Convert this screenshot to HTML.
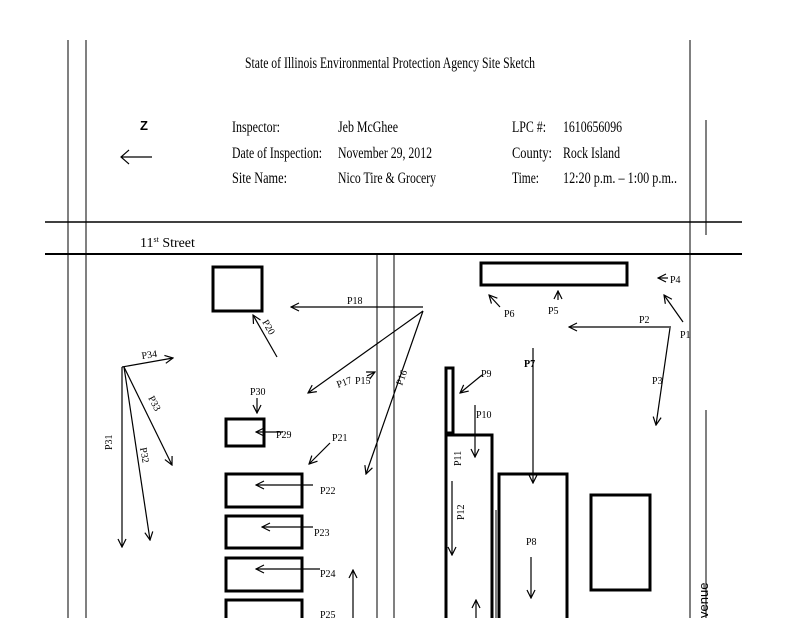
<!DOCTYPE html>
<html><head><style>
body{margin:0;background:#fff;width:800px;height:618px;overflow:hidden}
svg{display:block}
text{font-family:"Liberation Serif",serif;fill:#000}
</style></head><body>
<svg width="800" height="618" viewBox="0 0 800 618" xmlns="http://www.w3.org/2000/svg">
<defs>
<marker id="a" markerWidth="10" markerHeight="10" refX="9" refY="5" orient="auto" markerUnits="userSpaceOnUse">
<path d="M1,1 L9,5 L1,9" fill="none" stroke="#000" stroke-width="1.2"/>
</marker>
</defs>
<g stroke="#000" fill="none">
<line x1="68" y1="40" x2="68" y2="618" stroke-width="1"/>
<line x1="86" y1="40" x2="86" y2="618" stroke-width="1"/>
<line x1="690" y1="40" x2="690" y2="618" stroke-width="1"/>
<line x1="706" y1="120" x2="706" y2="235" stroke-width="1"/>
<line x1="706" y1="410" x2="706" y2="618" stroke-width="1"/>
<line x1="45" y1="222" x2="742" y2="222" stroke-width="1.5"/>
<line x1="45" y1="254" x2="742" y2="254" stroke-width="2"/>
<line x1="377" y1="254" x2="377" y2="618" stroke-width="1"/>
<line x1="394" y1="254" x2="394" y2="618" stroke-width="1"/>
<line x1="121" y1="157" x2="152" y2="157" stroke-width="1.2"/>
<path d="M129,150 L121,157 L129,164" stroke-width="1.2"/>
<!-- boxes -->
<rect x="213" y="267" width="49" height="44" stroke-width="3"/>
<rect x="226" y="419" width="38" height="27" stroke-width="3"/>
<rect x="226" y="474" width="76" height="33" stroke-width="3"/>
<rect x="226" y="516" width="76" height="32" stroke-width="3"/>
<rect x="226" y="558" width="76" height="33" stroke-width="3"/>
<rect x="226" y="600" width="76" height="30" stroke-width="3"/>
<rect x="481" y="263" width="146" height="22" stroke-width="3"/>
<rect x="446" y="368" width="7" height="65" stroke-width="3"/>
<rect x="446" y="435" width="46" height="200" stroke-width="3"/>
<rect x="499" y="474" width="68" height="160" stroke-width="3"/>
<rect x="591" y="495" width="59" height="95" stroke-width="3"/>
<line x1="496" y1="510" x2="496" y2="618"/>
<!-- arrows -->
<g stroke-width="1.2" marker-end="url(#a)">
<line x1="423" y1="307" x2="291" y2="307"/>
<line x1="423" y1="311" x2="308" y2="393"/>
<line x1="423" y1="311" x2="366" y2="474"/>
<line x1="367" y1="376" x2="375" y2="372"/>
<line x1="277" y1="357" x2="253" y2="315"/>
<line x1="122" y1="367" x2="173" y2="358"/>
<line x1="124" y1="367" x2="172" y2="465"/>
<line x1="122" y1="367" x2="122" y2="547"/>
<line x1="124" y1="367" x2="150" y2="540"/>
<line x1="257" y1="398" x2="257" y2="413"/>
<line x1="283" y1="432" x2="256" y2="432"/>
<line x1="330" y1="443" x2="309" y2="464"/>
<line x1="313" y1="485" x2="256" y2="485"/>
<line x1="313" y1="527" x2="262" y2="527"/>
<line x1="320" y1="569" x2="256" y2="569"/>
<line x1="353" y1="618" x2="353" y2="570"/>
<line x1="668" y1="278" x2="658" y2="278"/>
<line x1="500" y1="307" x2="489" y2="295"/>
<line x1="558" y1="300" x2="558" y2="291"/>
<line x1="671" y1="327" x2="569" y2="327"/>
<line x1="683" y1="322" x2="664" y2="295"/>
<line x1="670" y1="328" x2="656" y2="425"/>
<line x1="533" y1="348" x2="533" y2="483"/>
<line x1="482" y1="375" x2="460" y2="393"/>
<line x1="475" y1="405" x2="475" y2="457"/>
<line x1="452" y1="481" x2="452" y2="555"/>
<line x1="531" y1="557" x2="531" y2="598"/>
<line x1="476" y1="618" x2="476" y2="600"/>
</g>
</g>
<text x="390" y="68" font-size="16" text-anchor="middle" textLength="290" lengthAdjust="spacingAndGlyphs">State of Illinois Environmental Protection Agency Site Sketch</text>
<text x="140" y="130" font-size="13" font-weight="bold" style="font-family:'Liberation Sans',sans-serif">Z</text>
<g font-size="16">
<text x="232" y="132" textLength="48" lengthAdjust="spacingAndGlyphs">Inspector:</text>
<text x="232" y="158" textLength="90" lengthAdjust="spacingAndGlyphs">Date of Inspection:</text>
<text x="232" y="183" textLength="55" lengthAdjust="spacingAndGlyphs">Site Name:</text>
<text x="338" y="132" textLength="60" lengthAdjust="spacingAndGlyphs">Jeb McGhee</text>
<text x="338" y="158" textLength="94" lengthAdjust="spacingAndGlyphs">November 29, 2012</text>
<text x="338" y="183" textLength="98" lengthAdjust="spacingAndGlyphs">Nico Tire &amp; Grocery</text>
<text x="512" y="132" textLength="34" lengthAdjust="spacingAndGlyphs">LPC #:</text>
<text x="512" y="158" textLength="40" lengthAdjust="spacingAndGlyphs">County:</text>
<text x="512" y="183" textLength="27" lengthAdjust="spacingAndGlyphs">Time:</text>
<text x="563" y="132" textLength="59" lengthAdjust="spacingAndGlyphs">1610656096</text>
<text x="563" y="158" textLength="57" lengthAdjust="spacingAndGlyphs">Rock Island</text>
<text x="563" y="183" textLength="114" lengthAdjust="spacingAndGlyphs">12:20 p.m. – 1:00 p.m..</text>
</g>
<text x="140" y="247" font-size="14">11<tspan font-size="8" dy="-5">st</tspan><tspan dy="5" textLength="36" lengthAdjust="spacingAndGlyphs">  Street</tspan></text>
<g font-size="10">
<text x="347" y="304">P18</text>
<text x="338" y="388" transform="rotate(-20 338 388)">P17</text>
<text x="355" y="384">P15</text>
<text x="402" y="386" transform="rotate(-70 402 386)">P16</text>
<text x="262" y="322" transform="rotate(60 262 322)">P20</text>
<text x="142" y="359" transform="rotate(-8 142 359)">P34</text>
<text x="148" y="398" transform="rotate(62 148 398)">P33</text>
<text x="112" y="450" transform="rotate(-90 112 450)">P31</text>
<text x="140" y="448" transform="rotate(80 140 448)">P32</text>
<text x="250" y="395">P30</text>
<text x="276" y="438">P29</text>
<text x="332" y="441">P21</text>
<text x="320" y="494">P22</text>
<text x="314" y="536">P23</text>
<text x="320" y="577">P24</text>
<text x="320" y="618">P25</text>
<text x="670" y="283">P4</text>
<text x="504" y="317">P6</text>
<text x="548" y="314">P5</text>
<text x="639" y="323">P2</text>
<text x="680" y="338">P1</text>
<text x="652" y="384">P3</text>
<text x="524" y="367" font-weight="bold">P7</text>
<text x="481" y="377">P9</text>
<text x="476" y="418">P10</text>
<text x="461" y="466" transform="rotate(-90 461 466)">P11</text>
<text x="464" y="520" transform="rotate(-90 464 520)">P12</text>
<text x="526" y="545">P8</text>
</g>
<text x="708" y="618" font-size="13" transform="rotate(-90 708 618)" style="font-family:'Liberation Sans',sans-serif">venue</text>
</svg>
</body></html>
